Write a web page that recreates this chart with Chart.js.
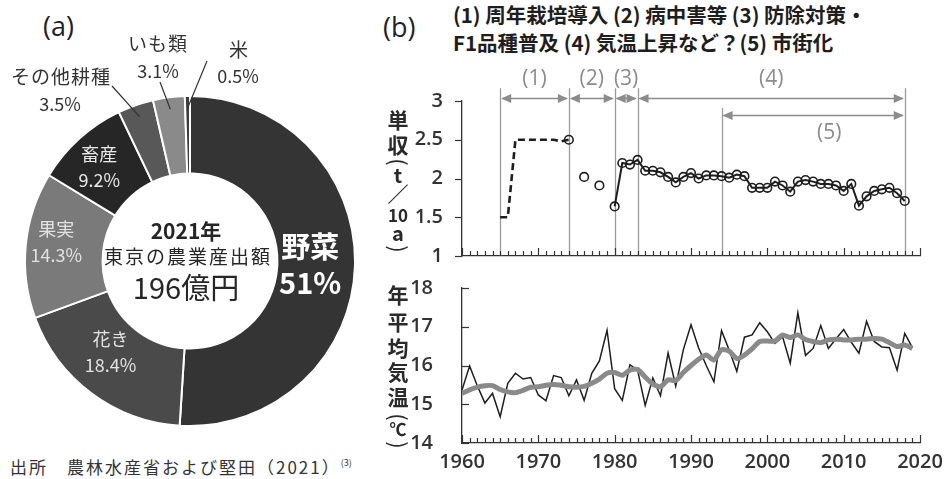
<!DOCTYPE html>
<html>
<head>
<meta charset="utf-8">
<script src="https://cdn.jsdelivr.net/npm/chart.js@4.4.0/dist/chart.umd.min.js"></script>
<style>
  html, body { margin:0; padding:0; background:#fff; }
  body { width:944px; height:479px; overflow:hidden; position:relative; font-family:"Noto Sans CJK JP", sans-serif; }
  .box { position:absolute; }
  canvas { display:block; }
  .txt { position:absolute; white-space:nowrap; color:#222; }
  .panel { font-family:"Open Sans", sans-serif; font-size:27px; line-height:27px; }
  .head { font-size:20.5px; font-weight:bold; line-height:28px; color:#1e1e1e; }
  .foot { font-size:17px; letter-spacing:2px; color:#333; line-height:20px; }
  .foot .sup { font-size:9px; letter-spacing:0; position:relative; top:-8px; }
</style>
</head>
<body>
<div class="txt panel" style="left:43px;top:12px">(a)</div>
<div class="txt panel" style="left:383px;top:13px">(b)</div>
<div class="txt head" style="left:453px;top:0px">(1) 周年栽培導入 (2) 病中害等 (3) 防除対策・<br>F1品種普及 (4) 気温上昇など？(5) 市街化</div>
<div class="txt foot" style="left:10px;top:457px">出所　農林水産省および堅田（2021）<span class="sup">(3)</span></div>

<div class="box" style="left:0;top:0;width:380px;height:450px"><canvas id="share"></canvas></div>
<div class="box" style="left:380px;top:55px;width:564px;height:212px"><canvas id="yield"></canvas></div>
<div class="box" style="left:380px;top:270px;width:564px;height:209px"><canvas id="temp"></canvas></div>

<script>
// ---- (a) Tokyo agricultural output 2021, share by sector (%) ----
const shareLabels = ['野菜', '花き', '果実', '畜産', 'その他耕種', 'いも類', '米'];
const shareValues = [51, 18.4, 14.3, 9.2, 3.5, 3.1, 0.5];
const shareColors = ['#343434', '#4a4a4a', '#7a7a7a', '#262626', '#585858', '#8a8a8a', '#3c3c3c'];
const centreLines = ['2021年', '東京の農業産出額', '196億円'];

// ---- (b) upper: yield (t/10a) ----
const yieldYearsEarly = [1965, 1966, 1967, 1968, 1969, 1970, 1971, 1972, 1973, 1974];
const yieldEarly      = [1.5, 1.5, 2.5, 2.5, 2.5, 2.5, 2.5, 2.5, 2.48, 2.5];
const yieldYearsSparse = [1974, 1976, 1978];
const yieldSparse      = [2.5, 2.02, 1.91];
const yieldYears = [1980, 1981, 1982, 1983, 1984, 1985, 1986, 1987, 1988, 1989,
                    1990, 1991, 1992, 1993, 1994, 1995, 1996, 1997, 1998, 1999,
                    2000, 2001, 2002, 2003, 2004, 2005, 2006, 2007, 2008, 2009,
                    2010, 2011, 2012, 2013, 2014, 2015, 2016, 2017, 2018];
const yieldMain = [1.64, 2.20, 2.18, 2.24, 2.10, 2.10, 2.08, 2.02, 1.95, 2.02,
                   2.07, 2.00, 2.04, 2.04, 2.03, 2.01, 2.05, 2.03, 1.88, 1.88,
                   1.88, 1.96, 1.91, 1.83, 1.96, 1.98, 1.96, 1.93, 1.93, 1.91,
                   1.84, 1.93, 1.65, 1.77, 1.84, 1.86, 1.88, 1.81, 1.71];
const yieldTicks = [1, 1.5, 2, 2.5, 3];

// period markers: (1)-(4) on the upper row, (5) on the lower row
const periodBounds = [1965, 1974, 1980, 1983, 1994, 2018];
const periodSpans  = [[1965, 1974], [1974, 1980], [1980, 1983], [1983, 2018], [1994, 2018]];
const periodNames  = ['(1)', '(2)', '(3)', '(4)', '(5)'];

// ---- (b) lower: annual mean temperature (°C) ----
const tempYears = [1960, 1961, 1962, 1963, 1964, 1965, 1966, 1967, 1968, 1969,
                   1970, 1971, 1972, 1973, 1974, 1975, 1976, 1977, 1978, 1979,
                   1980, 1981, 1982, 1983, 1984, 1985, 1986, 1987, 1988, 1989,
                   1990, 1991, 1992, 1993, 1994, 1995, 1996, 1997, 1998, 1999,
                   2000, 2001, 2002, 2003, 2004, 2005, 2006, 2007, 2008, 2009,
                   2010, 2011, 2012, 2013, 2014, 2015, 2016, 2017, 2018, 2019];
const tempAnnual = [15.37, 15.99, 15.48, 15.03, 15.28, 14.68, 15.54, 15.80, 15.65, 15.69,
                    15.24, 15.09, 15.74, 15.69, 15.22, 15.63, 15.10, 15.80, 16.12, 16.91,
                    15.40, 15.10, 16.02, 15.88, 14.97, 15.68, 15.22, 16.32, 15.47, 16.41,
                    17.05, 16.45, 16.00, 15.58, 16.90, 16.40, 15.85, 16.73, 16.79, 17.10,
                    16.87, 16.57, 16.74, 16.06, 17.36, 16.26, 16.44, 17.03, 16.44, 16.69,
                    16.93, 16.60, 16.32, 17.14, 16.62, 16.48, 16.46, 15.88, 16.83, 16.46];
const tempSmooth = [15.28, 15.37, 15.44, 15.48, 15.48, 15.38, 15.32, 15.30, 15.36, 15.44,
                    15.45, 15.49, 15.51, 15.49, 15.45, 15.44, 15.46, 15.54, 15.65, 15.80,
                    15.82, 15.75, 15.88, 15.90, 15.70, 15.52, 15.45, 15.63, 15.61, 15.82,
                    16.00, 16.16, 16.27, 16.14, 16.41, 16.37, 16.18, 16.27, 16.43, 16.62,
                    16.63, 16.63, 16.79, 16.72, 16.79, 16.67, 16.62, 16.59, 16.66, 16.68,
                    16.66, 16.66, 16.68, 16.68, 16.70, 16.68, 16.59, 16.49, 16.53, 16.44];
const tempTicks = [14, 15, 16, 17, 18];
const decadeTicks = [1960, 1970, 1980, 1990, 2000, 2010, 2020];

// vertical axis titles, one glyph per entry (page y of glyph centre)
const yieldTitle = [['単', 120], ['収', 145], ['(', 162, 'rot'], ['t', 175, 'lat'], ['／', 194], ['10', 216, 'small'], ['a', 233, 'lat'], [')', 249, 'rot']];
const tempTitle  = [['年', 295], ['平', 322], ['均', 348], ['気', 372], ['温', 397], ['(', 417, 'rot'], ['℃', 430, 'small'], [')', 445, 'rot']];

const CJK = '"Noto Sans CJK JP"';
const NUM = '"Open Sans"';
const pts = (xs, ys) => xs.map((x, i) => ({ x, y: ys[i] }));

// ---------- doughnut ----------
const labelStyle = [
  { inside: true, font: 'bold 29px ' + CJK, color: '#ffffff', dx: -6, dy: 0, gap: 18 },
  { inside: true, font: '18px ' + CJK, color: '#e2e2e2', dx: -4, dy: -10, gap: 13 },
  { inside: true, font: '18px ' + CJK, color: '#e2e2e2', dx: -8, dy: -7, gap: 13 },
  { inside: true, font: '18px ' + CJK, color: '#e8e8e8', dx: -6, dy: 0, gap: 13 },
  { inside: false, nx: 61, ny: 77, vx: 60, vy: 104, lx: 112, ly: 86 },
  { inside: false, nx: 158, ny: 44, vx: 158, vy: 71, lx: 160, ly: 82 },
  { inside: false, nx: 239, ny: 50, vx: 238, vy: 76, lx: 207, ly: 61 }
];

const shareText = {
  id: 'shareText',
  afterDatasetsDraw(chart) {
    const ctx = chart.ctx;
    const meta = chart.getDatasetMeta(0);
    const cx = meta.data[0].x, cy = meta.data[0].y;
    ctx.save();
    ctx.textAlign = 'center';
    ctx.textBaseline = 'middle';
    meta.data.forEach((arc, i) => {
      const st = labelStyle[i];
      const valueText = shareValues[i] + '%';
      if (st.inside) {
        const p = arc.tooltipPosition(true);
        const x = p.x + st.dx, y = p.y + st.dy;
        ctx.fillStyle = st.color;
        ctx.font = st.font;
        ctx.fillText(shareLabels[i], x, y - st.gap);
        ctx.fillText(valueText, x, y + st.gap);
      } else {
        const mid = (arc.startAngle + arc.endAngle) / 2;
        const r = arc.outerRadius - 12;
        ctx.strokeStyle = '#333';
        ctx.lineWidth = 1.2;
        ctx.beginPath();
        ctx.moveTo(st.lx, st.ly);
        ctx.lineTo(cx + Math.cos(mid) * r, cy + Math.sin(mid) * r);
        ctx.stroke();
        ctx.fillStyle = '#333';
        ctx.font = '19px ' + CJK;
        ctx.letterSpacing = '1px';
        ctx.fillText(shareLabels[i], st.nx, st.ny);
        ctx.letterSpacing = '0px';
        ctx.font = '18px ' + CJK;
        ctx.fillText(valueText, st.vx, st.vy);
      }
    });
    // centre caption
    ctx.fillStyle = '#262626';
    ctx.font = 'bold 21px ' + CJK;
    ctx.fillText(centreLines[0], cx - 4, cy - 30);
    ctx.font = '19px ' + CJK;
    ctx.letterSpacing = '2px';
    ctx.fillText(centreLines[1], cx - 2, cy - 4);
    ctx.letterSpacing = '0px';
    ctx.font = '29px ' + CJK;
    ctx.fillText(centreLines[2], cx - 4, cy + 27);
    ctx.restore();
  }
};

new Chart(document.getElementById('share'), {
  type: 'doughnut',
  data: {
    labels: shareLabels,
    datasets: [{ data: shareValues, backgroundColor: shareColors, borderColor: '#ffffff', borderWidth: 2 }]
  },
  options: {
    responsive: true, maintainAspectRatio: false, animation: false,
    cutout: '53%',
    layout: { padding: { left: 24, right: 24, top: 95, bottom: 23 } },
    plugins: { legend: { display: false }, tooltip: { enabled: false } }
  },
  plugins: [shareText]
});

// ---------- shared helpers for the two line panels ----------
function line(ctx, x1, y1, x2, y2) {
  ctx.beginPath(); ctx.moveTo(x1, y1); ctx.lineTo(x2, y2); ctx.stroke();
}

// yearly tick marks on the x axis, value ticks on the y axis
function tickMarks(yTickDir) {
  return {
    id: 'tickMarks',
    afterDraw(chart) {
      const { ctx, chartArea: a, scales: { x, y } } = chart;
      ctx.save();
      ctx.strokeStyle = '#333';
      ctx.lineWidth = 1.2;
      for (let yr = x.min; yr <= x.max; yr++) {
        const px = Math.round(x.getPixelForValue(yr)) + 0.5;
        const len = yr % 10 === 0 ? 8 : 5;
        line(ctx, px, a.bottom, px, a.bottom - len);
      }
      y.ticks.forEach(t => {
        const py = Math.round(y.getPixelForValue(t.value)) + 0.5;
        line(ctx, a.left, py, a.left + yTickDir * 7, py);
      });
      ctx.restore();
    }
  };
}

function verticalTitle(entries, offsetTop) {
  return {
    id: 'verticalTitle',
    afterDraw(chart) {
      const ctx = chart.ctx;
      const x = 18;
      ctx.save();
      ctx.fillStyle = '#2a2a2a';
      ctx.textAlign = 'center';
      ctx.textBaseline = 'middle';
      entries.forEach(([ch, py, kind]) => {
        const y = py - offsetTop;
        if (kind === 'rot') {
          ctx.save();
          ctx.translate(x, y);
          ctx.rotate(Math.PI / 2);
          ctx.font = '22px ' + CJK;
          ctx.fillText(ch, 0, 0);
          ctx.restore();
        } else {
          ctx.font = kind === 'small' ? 'bold 17px ' + CJK : kind === 'lat' ? 'bold 20px ' + CJK : 'bold 21px ' + CJK;
          ctx.fillText(ch, x, y);
        }
      });
      ctx.restore();
    }
  };
}

// period brackets above the yield panel
const periodMarks = {
  id: 'periodMarks',
  beforeDatasetsDraw(chart) {
    const { ctx, chartArea: a, scales: { x, y } } = chart;
    ctx.save();
    ctx.strokeStyle = '#9a9a9a';
    ctx.lineWidth = 1.3;
    periodBounds.forEach(yr => {
      const px = Math.round(x.getPixelForValue(yr)) + 0.5;
      const top = yr === 1994 ? y.getPixelForValue(2.91) : y.getPixelForValue(3.165);
      line(ctx, px, top, px, a.bottom);
    });
    const rowY = [3.045, 3.045, 3.045, 3.045, 2.82];
    const labelDy = [-19, -19, -19, -19, 18];
    const labelDx = [0, 0, 0, 0, 16];
    ctx.fillStyle = '#8c8c8c';
    ctx.strokeStyle = '#8c8c8c';
    ctx.lineWidth = 1.6;
    periodSpans.forEach(([s, e], i) => {
      const x1 = x.getPixelForValue(s), x2 = x.getPixelForValue(e);
      const py = Math.round(y.getPixelForValue(rowY[i])) + 0.5;
      line(ctx, x1 + 2, py, x2 - 2, py);
      const head = (tip, dir) => {
        ctx.beginPath();
        ctx.moveTo(tip, py);
        ctx.lineTo(tip + dir * 10, py - 4.5);
        ctx.lineTo(tip + dir * 10, py + 4.5);
        ctx.closePath();
        ctx.fill();
      };
      head(x1 + 1, 1);
      head(x2 - 1, -1);
      ctx.font = '21px ' + NUM;
      ctx.textAlign = 'center';
      ctx.textBaseline = 'middle';
      ctx.fillText(periodNames[i], (x1 + x2) / 2 + labelDx[i], py + labelDy[i]);
    });
    ctx.restore();
  }
};

const tickFont = { family: 'Open Sans', size: 20, weight: '600' };
const noPad = s => { s.paddingLeft = 0; s.paddingRight = 0; s.paddingTop = 0; s.paddingBottom = 0; };

// ---------- yield panel ----------
new Chart(document.getElementById('yield'), {
  type: 'line',
  data: {
    datasets: [
      { data: pts(yieldYears, yieldMain), borderColor: '#1e1e1e', borderWidth: 2, tension: 0,
        pointRadius: 4.3, pointBorderWidth: 1.6, pointBorderColor: '#1e1e1e', pointBackgroundColor: 'rgba(255,255,255,0)' },
      { data: pts(yieldYearsEarly, yieldEarly), borderColor: '#1e1e1e', borderWidth: 2.6, borderDash: [7, 4], tension: 0, pointRadius: 0 },
      { data: pts(yieldYearsSparse, yieldSparse), showLine: false,
        pointRadius: 4.3, pointBorderWidth: 1.6, pointBorderColor: '#1e1e1e', pointBackgroundColor: 'rgba(255,255,255,0)' }
    ]
  },
  options: {
    responsive: true, maintainAspectRatio: false, animation: false,
    layout: { padding: { left: 0, right: 24, top: 46, bottom: 11 } },
    plugins: { legend: { display: false }, tooltip: { enabled: false } },
    scales: {
      x: { type: 'linear', min: 1960, max: 2020,
           ticks: { display: false }, grid: { display: false, drawTicks: false },
           border: { color: '#333', width: 1.3 },
           afterFit: s => { s.height = 0; noPad(s); } },
      y: { min: 1, max: 3,
           afterBuildTicks: s => { s.ticks = yieldTicks.map(v => ({ value: v })); },
           ticks: { padding: 19, color: '#333', font: tickFont, callback: v => String(v) },
           grid: { display: false, drawTicks: false },
           border: { color: '#333', width: 1.3 },
           afterFit: s => { s.width = 82; noPad(s); } }
    }
  },
  plugins: [periodMarks, tickMarks(-1), verticalTitle(yieldTitle, 55)]
});

// ---------- temperature panel ----------
new Chart(document.getElementById('temp'), {
  type: 'line',
  data: {
    datasets: [
      { data: pts(tempYears, tempSmooth), borderColor: '#8a8a8a', borderWidth: 5, tension: 0.2, pointRadius: 0 },
      { data: pts(tempYears, tempAnnual), borderColor: '#1e1e1e', borderWidth: 1.5, tension: 0, pointRadius: 0 }
    ]
  },
  options: {
    responsive: true, maintainAspectRatio: false, animation: false,
    layout: { padding: { left: 0, right: 24, top: 18, bottom: 0 } },
    plugins: { legend: { display: false }, tooltip: { enabled: false } },
    scales: {
      x: { type: 'linear', min: 1960, max: 2020,
           afterBuildTicks: s => { s.ticks = decadeTicks.map(v => ({ value: v })); },
           ticks: { padding: 7, color: '#333', font: tickFont, maxRotation: 0, autoSkip: false, callback: v => String(v) },
           grid: { display: false, drawTicks: false },
           border: { color: '#333', width: 1.3 },
           afterFit: s => { s.height = 36; noPad(s); } },
      y: { min: 14, max: 18,
           afterBuildTicks: s => { s.ticks = tempTicks.map(v => ({ value: v })); },
           ticks: { padding: 29, color: '#333', font: tickFont, callback: v => String(v) },
           grid: { display: false, drawTicks: false },
           border: { color: '#333', width: 1.3 },
           afterFit: s => { s.width = 82; noPad(s); } }
    }
  },
  plugins: [tickMarks(1), verticalTitle(tempTitle, 270)]
});
</script>
</body>
</html>
